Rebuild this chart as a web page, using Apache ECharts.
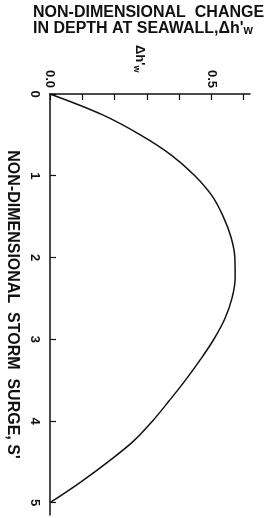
<!DOCTYPE html>
<html lang="en">
<head>
   <meta charset="UTF-8">
   <title>Change in depth at seawall</title>
   <script src="https://cdn.jsdelivr.net/npm/echarts@6/dist/echarts.min.js"></script>
   <style type="text/css">
   body{margin:0; padding:0; background:#fff;}
   #main{width:272px;height:518px;}
   </style>
</head>
<body>
<div id="main"></div>
<script type="text/javascript">
// storm surge S' (vertical axis) and change in depth dh'w (horizontal axis)
var surge = [0, 0.25, 0.5, 0.75, 1.0, 1.25, 1.5, 1.75, 2.0, 2.25, 2.5, 2.75, 3.0, 3.25, 3.5, 3.75, 4.0, 4.25, 4.5, 4.75, 5.0];
var depthChange = [0, 0.16, 0.28, 0.377, 0.449, 0.503, 0.537, 0.561, 0.573, 0.574, 0.564, 0.542, 0.508, 0.466, 0.42, 0.37, 0.318, 0.258, 0.18, 0.094, 0];
var depthTicks = [0, 0.1, 0.2, 0.3, 0.4, 0.5, 0.6];
var depthLabels = [0, 0.5];
var surgeTicks = [0, 1, 2, 3, 4, 5];

var font = 'Liberation Sans';
var pts = [];
for (var i = 0; i < surge.length; i++) {
    pts.push([depthChange[i], surge[i]]);
}

var myChart = echarts.init(document.getElementById('main'));
var option = {
    backgroundColor: '#fff',
    animation: false,
    title: {
        text: 'NON-DIMENSIONAL  CHANGE\nIN DEPTH AT SEAWALL,\u0394h\'{s|w}',
        left: 33,
        top: 5,
        padding: 0,
        textStyle: {
            fontFamily: font,
            fontWeight: 'bold',
            fontSize: 16,
            lineHeight: 16,
            color: '#111',
            rich: {
                s: {fontFamily: font, fontWeight: 'bold', fontSize: 12, verticalAlign: 'bottom', padding: [7, 0, 0, 0]}
            }
        }
    },
    graphic: [{
        type: 'text',
        x: 147,
        y: 45,
        rotation: -Math.PI / 2,
        style: {
            text: '\u0394h\'{s|w}',
            fontFamily: font,
            fontWeight: 'bold',
            fontSize: 13,
            fill: '#111',
            rich: {
                s: {fontFamily: font, fontWeight: 'bold', fontSize: 9, fill: '#111', padding: [6, 0, 0, 0]}
            }
        }
    }],
    grid: {
        left: 50,
        top: 94,
        width: 200,
        height: 421,
        outerBoundsMode: 'none'
    },
    xAxis: {
        type: 'value',
        position: 'top',
        min: 0,
        max: 0.62,
        interval: 0.1,
        splitLine: {show: false},
        axisLine: {lineStyle: {color: '#111', width: 1.5}},
        axisTick: {
            inside: true,
            length: 6,
            customValues: depthTicks,
            lineStyle: {color: '#111', width: 1.2}
        },
        axisLabel: {
            customValues: depthLabels,
            rotate: -90,
            margin: 6,
            fontFamily: font,
            fontWeight: 'bold',
            fontSize: 13,
            color: '#111',
            formatter: function (v) { return v.toFixed(1); }
        }
    },
    yAxis: {
        type: 'value',
        inverse: true,
        min: 0,
        max: 5.15,
        interval: 1,
        name: 'NON-DIMENSIONAL  STORM  SURGE, S\'',
        nameLocation: 'middle',
        nameRotate: -90,
        nameGap: 28,
        nameTextStyle: {
            fontFamily: font,
            fontWeight: 'bold',
            fontSize: 16,
            color: '#111'
        },
        splitLine: {show: false},
        axisLine: {lineStyle: {color: '#111', width: 1.5}},
        axisTick: {
            inside: true,
            length: 6,
            customValues: surgeTicks,
            lineStyle: {color: '#111', width: 1.2}
        },
        axisLabel: {
            customValues: surgeTicks,
            rotate: -90,
            margin: 9,
            fontFamily: font,
            fontWeight: 'bold',
            fontSize: 13,
            color: '#111'
        }
    },
    series: [{
        type: 'line',
        data: pts,
        smooth: 0.35,
        showSymbol: false,
        lineStyle: {color: '#111', width: 1.5}
    }]
};
myChart.setOption(option);
</script>
</body>
</html>
